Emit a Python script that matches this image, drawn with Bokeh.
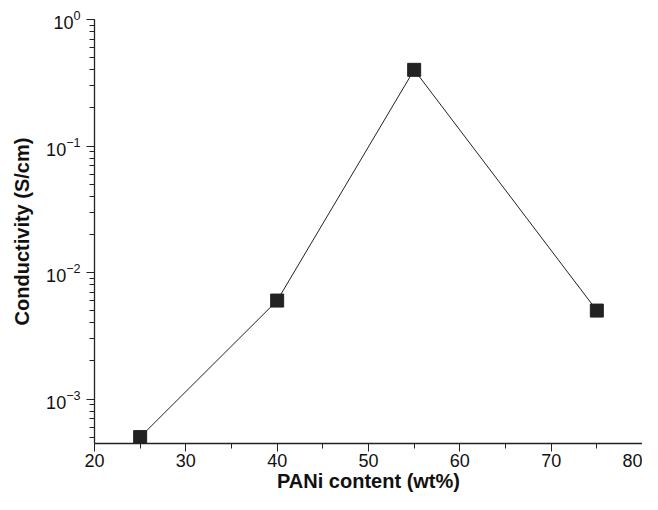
from bokeh.plotting import figure
from bokeh.embed import file_html
from bokeh.resources import INLINE
from bokeh.models import Range1d, FixedTicker, LogTicker

pani_content = [25, 40, 55, 75]
conductivity = [5.0e-4, 6.0e-3, 0.40, 5.0e-3]
x_ticks = [20, 30, 40, 50, 60, 70, 80]
x_minor_ticks = [25, 35, 45, 55, 65, 75]

p = figure(width=642, height=494, y_axis_type="log", output_backend="svg",
           toolbar_location=None,
           x_range=Range1d(20, 80), y_range=Range1d(4.45e-4, 1.0),
           min_border_left=94, min_border_right=0, min_border_top=19, min_border_bottom=40)

p.outline_line_color = None
p.grid.visible = False

p.line(pani_content, conductivity, line_color="#222222", line_width=1)
p.scatter(pani_content, conductivity, marker="square", size=13,
          fill_color="#222222", line_color="#222222")

p.xaxis.ticker = FixedTicker(ticks=x_ticks, minor_ticks=x_minor_ticks)
p.yaxis.ticker = LogTicker(num_minor_ticks=10)

for ax in (p.xaxis[0], p.yaxis[0]):
    ax.axis_line_color = "#222222"
    ax.axis_line_width = 1.3
    ax.major_tick_line_color = "#222222"
    ax.minor_tick_line_color = "#222222"
    ax.major_tick_in = 0
    ax.major_tick_out = 8
    ax.minor_tick_in = 0
    ax.minor_tick_out = 5
    ax.major_label_text_font = "Liberation Sans"
    ax.major_label_text_font_size = "18px"
    ax.major_label_text_color = "#111111"
    ax.axis_label_text_font = "Liberation Sans"
    ax.axis_label_text_font_style = "bold"
    ax.axis_label_text_font_size = "20px"
    ax.axis_label_text_color = "#111111"

p.xaxis.axis_label = "PANi content (wt%)"
p.yaxis.axis_label = "Conductivity (S/cm)"
p.xaxis.major_label_standoff = 2
p.yaxis.major_label_standoff = 6
p.xaxis.axis_label_standoff = 0
p.yaxis.axis_label_standoff = 10

open("out.html", "w").write(file_html(p, INLINE))
